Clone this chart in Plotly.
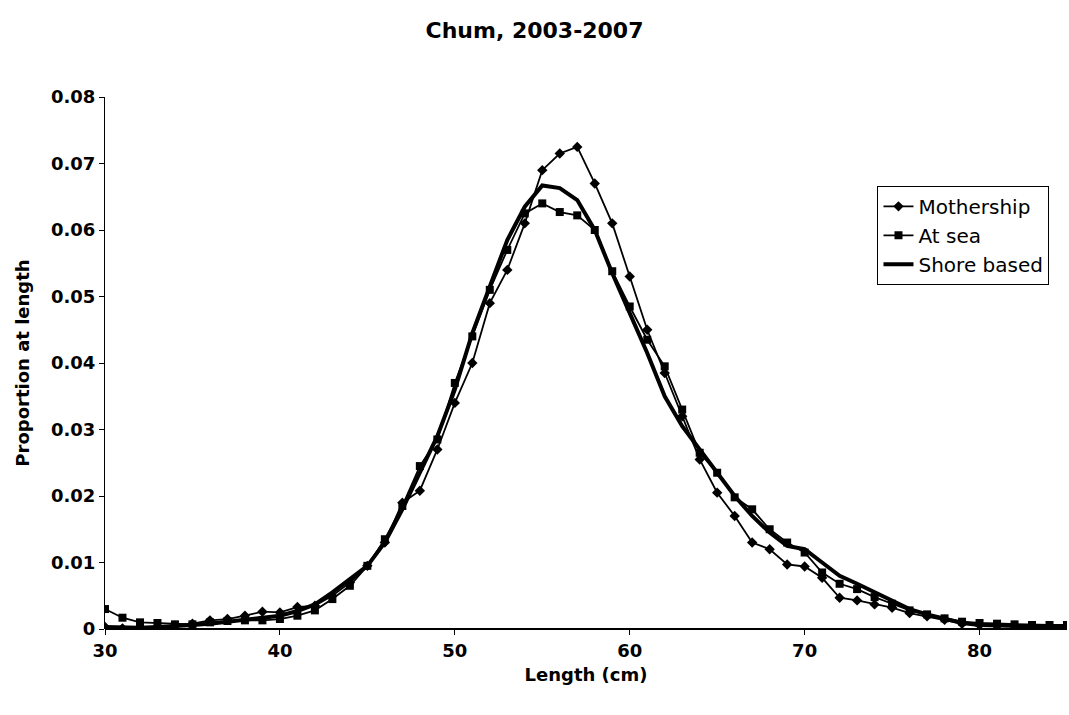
import plotly.graph_objects as go

# Fork length bins (cm)
lengths = list(range(30, 86))

mothership = [
    0.0003, 0.0001, 0.0001, 0.0003, 0.0005, 0.0008, 0.0013, 0.0015, 0.0020, 0.0026,
    0.0025, 0.0033, 0.0035, 0.0050, 0.0070, 0.0095, 0.0130, 0.0190, 0.0208, 0.0270,
    0.0340, 0.0400, 0.0490, 0.0540, 0.0610, 0.0690, 0.0715, 0.0725, 0.0670, 0.0610,
    0.0530, 0.0450, 0.0385, 0.0320, 0.0255, 0.0205, 0.0170, 0.0130, 0.0120, 0.0097,
    0.0094, 0.0077, 0.0047, 0.0043, 0.0037, 0.0032, 0.0024, 0.0019, 0.0014, 0.0008,
    0.0006, 0.0005, 0.0005, 0.0004, 0.0004, 0.0003,
]

at_sea = [
    0.0030, 0.0017, 0.0010, 0.0009, 0.0007, 0.0007, 0.0010, 0.0012, 0.0013, 0.0013,
    0.0015, 0.0020, 0.0028, 0.0045, 0.0065, 0.0095, 0.0135, 0.0185, 0.0245, 0.0285,
    0.0370, 0.0440, 0.0510, 0.0570, 0.0625, 0.0640, 0.0627, 0.0622, 0.0600, 0.0538,
    0.0485, 0.0435, 0.0395, 0.0330, 0.0265, 0.0235, 0.0198, 0.0180, 0.0150, 0.0130,
    0.0115, 0.0085, 0.0068, 0.0060, 0.0048, 0.0038, 0.0028, 0.0022, 0.0016, 0.0011,
    0.0009, 0.0008, 0.0007, 0.0006, 0.0006, 0.0006,
]

shore_based = [
    0.0003, 0.0002, 0.0002, 0.0003, 0.0004, 0.0006, 0.0008, 0.0011, 0.0013, 0.0016,
    0.0020, 0.0027, 0.0037, 0.0055, 0.0075, 0.0095, 0.0130, 0.0180, 0.0235, 0.0290,
    0.0360, 0.0445, 0.0515, 0.0585, 0.0635, 0.0667, 0.0663, 0.0645, 0.0600, 0.0535,
    0.0475, 0.0415, 0.0350, 0.0305, 0.0270, 0.0235, 0.0200, 0.0170, 0.0145, 0.0125,
    0.0120, 0.0100, 0.0080, 0.0068, 0.0055, 0.0042, 0.0030, 0.0022, 0.0015, 0.0009,
    0.0006, 0.0005, 0.0005, 0.0004, 0.0004, 0.0004,
]

x_ticks = [30, 40, 50, 60, 70, 80]
y_ticks = [0, 0.01, 0.02, 0.03, 0.04, 0.05, 0.06, 0.07, 0.08]
y_tick_text = ["0", "0.01", "0.02", "0.03", "0.04", "0.05", "0.06", "0.07", "0.08"]

font_family = "DejaVu Sans"

fig = go.Figure()
fig.add_trace(go.Scatter(
    x=lengths, y=mothership, name="Mothership", mode="lines+markers",
    line=dict(color="black", width=1.8),
    marker=dict(symbol="diamond", size=8, color="black"),
))
fig.add_trace(go.Scatter(
    x=lengths, y=at_sea, name="At sea", mode="lines+markers",
    line=dict(color="black", width=1.8),
    marker=dict(symbol="square", size=8, color="black"),
))
fig.add_trace(go.Scatter(
    x=lengths, y=shore_based, name="Shore based", mode="lines",
    line=dict(color="black", width=4),
))

tick_font = dict(size=18, weight="bold", family=font_family)

fig.update_layout(
    width=1069, height=715,
    paper_bgcolor="white", plot_bgcolor="white",
    margin=dict(l=105, r=2, t=97, b=86),
    font=dict(family=font_family, color="black", size=17),
    title=dict(
        text="<b>Chum, 2003-2007</b>", x=0.5, xanchor="center",
        y=0.958, yanchor="middle", font=dict(size=22, family=font_family),
    ),
    xaxis=dict(
        range=[30, 85], tickvals=x_ticks, showgrid=False, zeroline=False,
        showline=False, ticks="outside", ticklen=5, tickcolor="black",
        tickfont=tick_font,
        title=dict(text="<b>Length (cm)</b>", font=dict(size=18), standoff=8),
    ),
    yaxis=dict(
        range=[0, 0.08], tickvals=y_ticks, ticktext=y_tick_text, showgrid=False,
        zeroline=True, zerolinecolor="black", zerolinewidth=1.5,
        showline=True, linecolor="black", linewidth=1,
        ticks="outside", ticklen=5, tickcolor="black",
        tickfont=tick_font,
        title=dict(text="<b>Proportion at length</b>", font=dict(size=18), standoff=16),
    ),
    legend=dict(
        x=0.803, y=0.833, xanchor="left", yanchor="top",
        bgcolor="white", bordercolor="black", borderwidth=1,
        font=dict(size=20), itemwidth=30,
    ),
    showlegend=True,
)

fig.write_html("out.html")
